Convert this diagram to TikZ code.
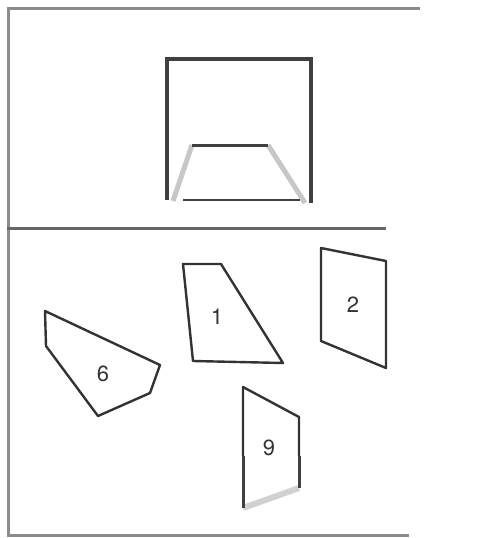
\documentclass[tikz,border=0pt]{standalone}
\usepackage{fontspec}
\setmainfont{TeX Gyre Heros}
\begin{document}
\begin{tikzpicture}[x=1pt,y=-1pt,
  frame/.style={draw=black!45,line width=3pt},
  dark/.style={draw=black!75,line width=3.5pt},
  fade/.style={draw=black!22,line width=5pt},
  piece/.style={draw=black!80,line width=2.4pt,line join=round},
  lbl/.style={font=\fontsize{22}{24}\selectfont,text=black!80,inner sep=0pt}]
\useasboundingbox (0,0) rectangle (498,538);
% frame
\coordinate (ft1) at (7,8); \coordinate (ft2) at (420,8);
\coordinate (fl2) at (8,535);
\coordinate (fm1) at (7,228); \coordinate (fm2) at (386,228);
\coordinate (fb2) at (409,535);
\draw[frame] (ft2) -- (ft1) -- (8,8) -- (fl2) -- (fb2);
\draw[frame,draw=black!60] (fm1) -- (fm2);
% top square
\coordinate (sa) at (167,200); \coordinate (sb) at (167,59);
\coordinate (sc) at (311,59); \coordinate (sd) at (311,203);
\draw[dark] (sa) -- (sb) -- (sc) -- (sd);
\coordinate (ta) at (192,145); \coordinate (tb) at (268,145);
\coordinate (ba) at (183,200); \coordinate (bb) at (300,200);
\coordinate (la) at (173,201); \coordinate (ra) at (305,203);
\draw[fade] (ta) -- (la);
\draw[fade] (tb) -- (ra);
\draw[dark,line width=3pt] (ta) -- (tb);
\draw[dark,line width=2.5pt] (ba) -- (bb);
% piece 1
\path[piece] (183,264) -- (221,264) -- (283,363) -- (193,361) -- cycle;
\node[lbl] (n1) at (217,317) {1};
% piece 2
\path[piece] (321,248) -- (386,261) -- (386,368) -- (321,341) -- cycle;
\node[lbl] (n2) at (353,305) {2};
% piece 6
\path[piece] (45,311) -- (160,365) -- (150,393) -- (98,416) -- (46,346) -- cycle;
\node[lbl] (n6) at (103,374) {6};
% piece 9
\coordinate (p9a) at (243,508); \coordinate (p9b) at (243,387);
\coordinate (p9c) at (299,417); \coordinate (p9d) at (299,488);
\draw[fade,line width=6pt,draw=black!18] (p9d) -- (p9a);
\path[piece] (243,456) -- (p9b) -- (p9c) -- (299,456);
\draw[dark,line width=3pt] (243,456) -- (p9a);
\draw[dark,line width=3pt] (299,456) -- (p9d);
\node[lbl] (n9) at (269,448) {9};
\end{tikzpicture}
\end{document}
